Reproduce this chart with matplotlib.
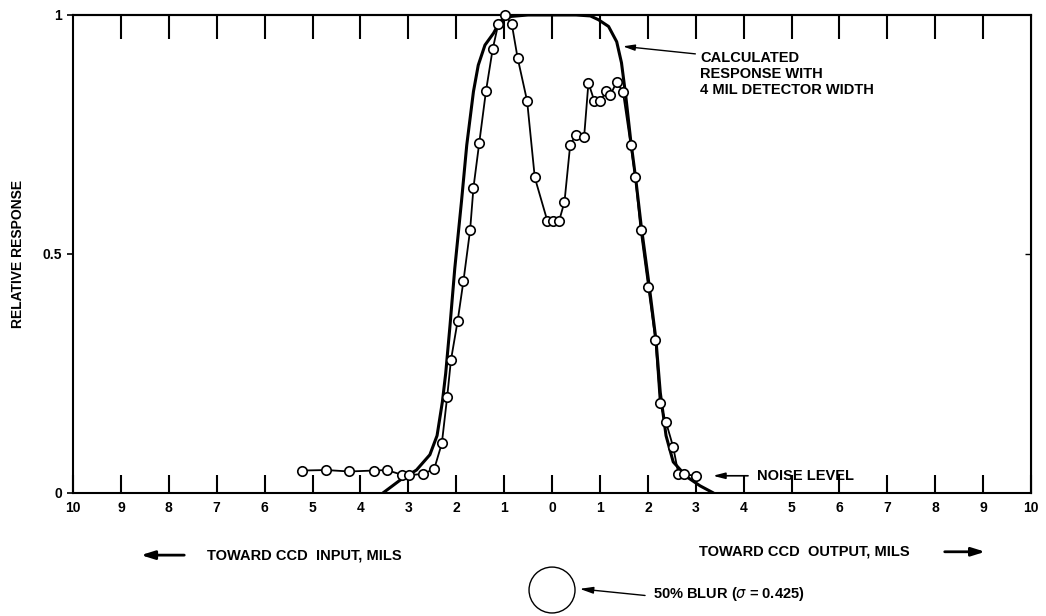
import matplotlib
matplotlib.use('Agg')
import matplotlib.pyplot as plt
from matplotlib.patches import Ellipse

plt.rcParams['font.family'] = ['Liberation Sans', 'DejaVu Sans']

# measured response, position in mils (negative = toward CCD input)
meas_x = [-5.21, -4.72, -4.23, -3.71, -3.45, -3.13, -2.99, -2.70, -2.46, -2.30,
          -2.19, -2.11, -1.97, -1.85, -1.71, -1.64, -1.52, -1.38, -1.24, -1.12,
          -0.98, -0.84, -0.72, -0.52, -0.36, -0.10, 0.01, 0.15, 0.26, 0.38,
          0.50, 0.67, 0.76, 0.88, 1.00, 1.13, 1.22, 1.35, 1.48, 1.64,
          1.74, 1.85, 2.01, 2.16, 2.25, 2.38, 2.53, 2.64, 2.76, 3.01]
meas_y = [0.047, 0.048, 0.045, 0.047, 0.048, 0.038, 0.037, 0.040, 0.050, 0.104,
          0.200, 0.278, 0.360, 0.443, 0.550, 0.639, 0.732, 0.840, 0.928, 0.982,
          1.000, 0.981, 0.911, 0.820, 0.660, 0.570, 0.570, 0.570, 0.609, 0.729,
          0.749, 0.745, 0.858, 0.821, 0.819, 0.840, 0.833, 0.860, 0.839, 0.729,
          0.660, 0.550, 0.430, 0.319, 0.188, 0.148, 0.096, 0.039, 0.039, 0.036]

# calculated response with 4 mil detector width
calc_x = [-3.53, -3.17, -2.83, -2.55, -2.40, -2.29, -2.22, -2.13, -2.03, -1.89,
          -1.78, -1.64, -1.54, -1.40, -1.22, -1.09, -0.85, -0.50, 0.00, 0.50,
          0.80, 0.97, 1.18, 1.35, 1.45, 1.54, 1.64, 1.75, 1.86, 2.02,
          2.17, 2.26, 2.38, 2.53, 2.81, 3.09, 3.37]
calc_y = [0.000, 0.027, 0.048, 0.080, 0.120, 0.190, 0.250, 0.350, 0.470, 0.610,
          0.728, 0.840, 0.895, 0.937, 0.962, 0.986, 0.997, 1.000, 1.000, 1.000,
          0.998, 0.990, 0.976, 0.944, 0.900, 0.830, 0.740, 0.655, 0.560, 0.440,
          0.320, 0.210, 0.120, 0.065, 0.034, 0.015, 0.000]

xticks = list(range(-10, 11))
xtick_labels = [str(abs(v)) for v in xticks]
yticks = [0, 0.5, 1]
ytick_labels = ['0', '0.5', '1']

FS = 10.5  # annotation text size

fig = plt.figure(figsize=(10.46, 6.16), dpi=100)
ax = fig.add_axes([0.0698, 0.1997, 0.9159, 0.776])
ax.set_xlim(-10, 10)
ax.set_ylim(0, 1)

for s in ax.spines.values():
    s.set_linewidth(1.5)

ax.set_xticks(xticks)
ax.set_xticklabels(xtick_labels, fontsize=10, fontweight='bold')
ax.tick_params(axis='x', direction='in', length=13, width=1.5, pad=6)
ax.set_yticks(yticks)
ax.set_yticklabels(ytick_labels, fontsize=10, fontweight='bold')
ax.tick_params(axis='y', direction='out', length=4, width=1.2, pad=4)

# top ticks, a bit longer, pointing down
top = ax.secondary_xaxis('top')
top.set_xticks(list(range(-9, 10)))
top.tick_params(direction='in', length=17, width=1.5, labeltop=False)
top.spines['top'].set_linewidth(1.5)

# small mark on right edge at 0.5
right = ax.secondary_yaxis('right')
right.set_yticks([0.5])
right.tick_params(direction='in', length=4, width=1.0, labelright=False)

ax.plot(calc_x, calc_y, color='black', lw=2.2, solid_capstyle='round')
ax.plot(meas_x, meas_y, '-o', color='black', lw=1.3, ms=6.8,
        mfc='white', mec='black', mew=1.2, clip_on=False, zorder=3)

fig.text(18 / 1046, 1 - 254 / 616, 'RELATIVE RESPONSE', rotation=90,
         ha='center', va='center', fontsize=10, fontweight='bold')

# calculated curve callout
ax.annotate('', xy=(1.42, 0.935), xytext=(3.05, 0.918),
            arrowprops=dict(arrowstyle='-|>,head_length=0.7,head_width=0.18',
                            color='black', lw=1.0))
ax.text(3.09, 0.876, 'CALCULATED\nRESPONSE WITH\n4 MIL DETECTOR WIDTH',
        ha='left', va='center', fontsize=FS, fontweight='bold', linespacing=1.2)

# noise level callout
ax.annotate('', xy=(3.30, 0.036), xytext=(4.15, 0.036),
            arrowprops=dict(arrowstyle='-|>,head_length=0.7,head_width=0.18',
                            color='black', lw=1.2))
ax.text(4.28, 0.036, 'NOISE LEVEL', ha='left', va='center',
        fontsize=FS, fontweight='bold')

# direction labels under the axis
ax.annotate('', xy=(-8.64, -0.13), xytext=(-7.62, -0.13),
            annotation_clip=False,
            arrowprops=dict(arrowstyle='-|>,head_length=0.8,head_width=0.25',
                            color='black', lw=2.0))
ax.text(-7.2, -0.13, 'TOWARD CCD  INPUT, MILS', ha='left', va='center',
        fontsize=FS, fontweight='bold', clip_on=False)
ax.text(3.07, -0.123, 'TOWARD CCD  OUTPUT, MILS', ha='left', va='center',
        fontsize=FS, fontweight='bold', clip_on=False)
ax.annotate('', xy=(9.10, -0.123), xytext=(8.14, -0.123),
            annotation_clip=False,
            arrowprops=dict(arrowstyle='-|>,head_length=0.8,head_width=0.25',
                            color='black', lw=2.0))

# blur circle
ax.add_patch(Ellipse((0, -0.203), 0.96, 0.096, fill=False, edgecolor='black',
                     lw=1.0, clip_on=False))
ax.annotate('', xy=(0.52, -0.2), xytext=(2.0, -0.215),
            annotation_clip=False,
            arrowprops=dict(arrowstyle='-|>,head_length=0.8,head_width=0.2',
                            color='black', lw=1.0))
ax.text(2.11, -0.212, '50% BLUR ($\\sigma$ = 0.425)', ha='left', va='center',
        fontsize=FS, fontweight='bold', clip_on=False)

fig.savefig('out.png', dpi=100)
